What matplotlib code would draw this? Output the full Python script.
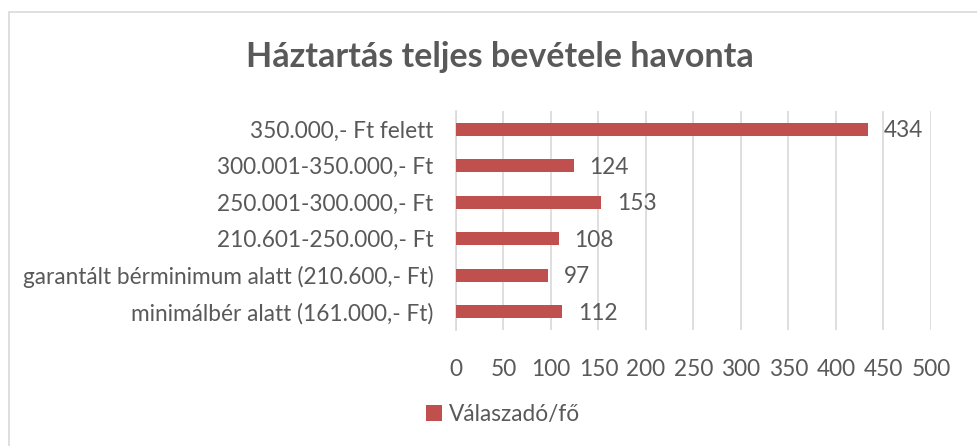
import numpy as np
import matplotlib
matplotlib.use('Agg')
import matplotlib.pyplot as plt
from matplotlib.patches import Rectangle

plt.rcParams['font.family'] = ['Lato', 'DejaVu Sans']

# categories from bottom to top (as matplotlib draws barh)
categories = ['minimálbér alatt (161.000,- Ft)',
              'garantált bérminimum alatt (210.600,- Ft)',
              '210.601-250.000,- Ft',
              '250.001-300.000,- Ft',
              '300.001-350.000,- Ft',
              '350.000,- Ft felett']
values = [112, 97, 108, 153, 124, 434]
xticks = [0, 50, 100, 150, 200, 250, 300, 350, 400, 450, 500]
series_name = 'Válaszadó/fő'

txt = '#595959'
bar_col = '#c0504d'
fs = 16.3

fig = plt.figure(figsize=(9.77, 4.46), dpi=100)
ax = fig.add_axes([0.4667, 0.2601, 0.4862, 0.4910])

y = np.arange(len(categories))
ax.barh(y, values, height=0.36, color=bar_col, label=series_name, zorder=3)
for yi, v in zip(y, values):
    ax.annotate(str(v), (v, yi), xytext=(11, -1), textcoords='offset points',
                va='center', ha='left', fontsize=fs, color=txt)

ax.set_xlim(0, 500)
ax.set_ylim(-0.5, len(categories) - 0.5)
ax.set_xticks(xticks)
ax.set_yticks(y)
ax.set_yticklabels(categories)
ax.tick_params(axis='both', length=0, labelsize=fs, labelcolor=txt)
ax.tick_params(axis='x', pad=21)
ax.tick_params(axis='y', pad=16)
ax.grid(axis='x', color='#d9d9d9', linewidth=1.2, zorder=0)
for s in ['top', 'right', 'bottom']:
    ax.spines[s].set_visible(False)
ax.spines['left'].set_color('#d9d9d9')
ax.spines['left'].set_linewidth(1.2)

fig.text(0.512, 0.872, 'Háztartás teljes bevétele havonta', ha='center', va='center',
         fontsize=24.5, fontweight='bold', color=txt)

fig.legend(loc='center', bbox_to_anchor=(0.515, 0.07), frameon=False, fontsize=fs,
           labelcolor=txt, handlelength=0.7, handleheight=0.7, handletextpad=0.3)

# chart border
fig.patches.append(Rectangle((9 / 977, -0.1), 1.2, 1 - 12 / 446 + 0.1, transform=fig.transFigure,
                             fill=False, edgecolor='#d9d9d9', linewidth=1.2))

fig.savefig('out.png', dpi=100)
